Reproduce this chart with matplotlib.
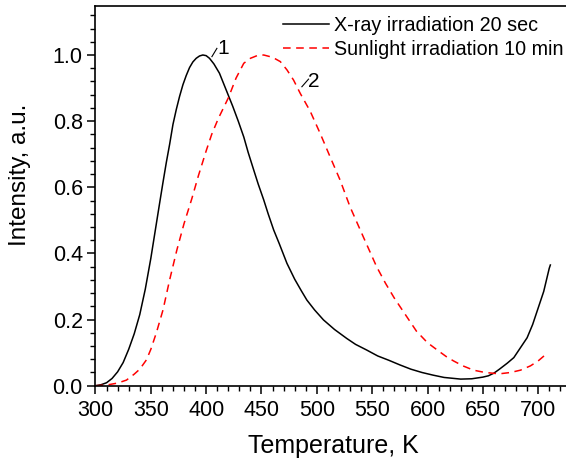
import matplotlib
matplotlib.use("Agg")
import matplotlib.pyplot as plt
from matplotlib.ticker import MultipleLocator

plt.rcParams['font.family'] = ['Liberation Sans', 'DejaVu Sans']

# ---- data ----
xray_T = [300, 305, 310, 315, 320, 325, 330, 335, 340, 345, 350, 355, 358, 361,
          364, 367, 370, 373, 376, 379, 382, 385, 388, 391, 394, 397, 400, 403,
          407, 412, 418, 424, 429, 434, 438, 443, 447, 452, 456, 461, 466, 473,
          480, 486, 491, 498, 506, 516, 527, 535, 545, 555, 565, 575, 585, 595,
          605, 615, 630, 640, 650, 655, 660, 665, 672, 678, 685, 690, 695, 700,
          705, 710, 711]
xray_I = [0.0, 0.003, 0.009, 0.022, 0.042, 0.07, 0.11, 0.157, 0.215, 0.292, 0.385,
          0.49, 0.553, 0.615, 0.675, 0.73, 0.79, 0.835, 0.875, 0.91, 0.938, 0.962,
          0.979, 0.99, 0.997, 1.0, 0.998, 0.99, 0.973, 0.945, 0.895, 0.845, 0.80,
          0.752, 0.705, 0.652, 0.61, 0.562, 0.52, 0.471, 0.43, 0.37, 0.322, 0.287,
          0.259, 0.229, 0.199, 0.17, 0.143, 0.125, 0.108, 0.09, 0.077, 0.063,
          0.05, 0.04, 0.032, 0.025, 0.02, 0.021, 0.026, 0.03, 0.038, 0.05, 0.068,
          0.085, 0.12, 0.145, 0.185, 0.235, 0.285, 0.355, 0.365]

sun_T = [300, 310, 320, 328, 335, 340, 346, 350, 355, 361, 367, 373.5, 380, 387,
         393, 400, 405, 411, 420, 427, 434, 440, 446, 452, 460, 467, 473, 479,
         485, 494, 503, 512, 521, 530, 542, 554, 562, 570, 580, 590, 600, 610,
         617, 623.5, 632, 641.6, 652, 665, 675, 684, 693, 700, 707]
sun_I = [0.0, 0.002, 0.008, 0.017, 0.035, 0.05, 0.078, 0.11, 0.16, 0.229, 0.32,
         0.41, 0.49, 0.565, 0.635, 0.71, 0.76, 0.808, 0.87, 0.93, 0.975, 0.99,
         0.998, 1.0, 0.993, 0.98, 0.955, 0.924, 0.884, 0.83, 0.763, 0.692, 0.622,
         0.541, 0.45, 0.36, 0.31, 0.265, 0.215, 0.165, 0.13, 0.105, 0.088, 0.075,
         0.06, 0.047, 0.04, 0.036, 0.04, 0.047, 0.06, 0.075, 0.095]

series_labels = ["X-ray irradiation 20 sec", "Sunlight irradiation 10 min"]
curve_tags = ["1", "2"]
tag_text_pos = [(415.3, 1.02), (497.4, 0.919)]
tag_slash = [((405.2, 0.995), (409.7, 1.020)), ((486.5, 0.904), (492.5, 0.927))]

# ---- figure ----
fig = plt.figure(figsize=(5.66, 4.61), dpi=100)
ax = fig.add_axes([0.1687, 0.1633, 0.8408, 0.8236])

ax.plot(xray_T, xray_I, color='black', lw=1.1, label=series_labels[0])
ax.plot(sun_T, sun_I, color='#ff0000', lw=1.1, dashes=(5, 3.6), label=series_labels[1])

for tag, (tx, ty), (p0, p1) in zip(curve_tags, tag_text_pos, tag_slash):
    ax.plot([p0[0], p1[0]], [p0[1], p1[1]], color='black', lw=0.8)
    ax.text(tx, ty, tag, fontsize=15, ha='center', va='center')

ax.set_xlim(300, 730)
ax.set_ylim(0, 1.148)
ax.xaxis.set_major_locator(MultipleLocator(50))
ax.xaxis.set_minor_locator(MultipleLocator(10))
ax.yaxis.set_major_locator(MultipleLocator(0.2))
ax.yaxis.set_minor_locator(MultipleLocator(0.04))
ax.yaxis.set_major_formatter(plt.FuncFormatter(lambda v, p: f"{v:.1f}"))

ax.spines['right'].set_visible(False)
for s in ['top', 'left', 'bottom']:
    ax.spines[s].set_linewidth(1.2)
ax.tick_params(which='major', direction='out', length=5.6, width=1.1, labelsize=15.5)
ax.tick_params(which='minor', direction='out', length=3.4, width=1.0)
ax.tick_params(axis='x', pad=4.5)
ax.tick_params(axis='y', pad=3.5)

ax.set_xlabel("Temperature, K", fontsize=18)
ax.set_ylabel("Intensity, a.u.", fontsize=17.5)
ax.xaxis.set_label_coords((333 - 95.5) / 475.9, -(434 - 385.7) / 379.7)
ax.yaxis.set_label_coords(-(95.5 - 31) / 475.9, (385.7 - 175) / 379.7)

ax.legend(loc='upper left', bbox_to_anchor=(283 / 566, 1 - 16 / 461),
          bbox_transform=fig.transFigure, frameon=False, fontsize=14.2,
          handlelength=2.35, handletextpad=0.25, borderpad=0, borderaxespad=0,
          labelspacing=0.25)

fig.savefig("out.png", dpi=100)
